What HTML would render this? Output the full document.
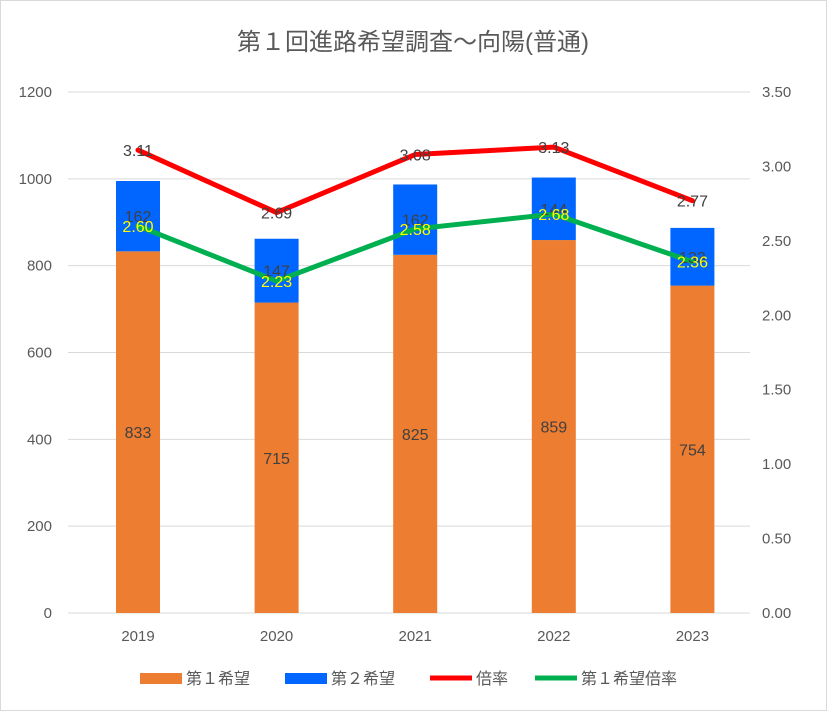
<!DOCTYPE html>
<html><head><meta charset="utf-8"><style>
body{margin:0;background:#fff;}
svg text{font-family:"Liberation Sans","Noto Sans CJK JP",sans-serif;}
</style></head><body>
<svg id="c" width="827" height="711" xmlns="http://www.w3.org/2000/svg">
<rect x="0.5" y="0.5" width="826" height="710" fill="#fff" stroke="#d9d9d9"/>
<text x="413" y="50" text-anchor="middle" font-size="24" fill="#595959">第１回進路希望調査～向陽(普通)</text>
<g id="grid"></g><g id="bars"></g><g id="lines"></g><g id="labels"></g><g id="axes"></g>
<g>
<rect x="140" y="673" width="42" height="11" fill="#ed7d31"/>
<text x="186" y="684" font-size="16" fill="#595959">第１希望</text>
<rect x="285" y="673" width="42" height="11" fill="#0066ff"/>
<text x="331" y="684" font-size="16" fill="#595959">第２希望</text>
<line x1="430" y1="678" x2="472" y2="678" stroke="#ff0000" stroke-width="5"/>
<text x="476" y="684" font-size="16" fill="#595959">倍率</text>
<line x1="535" y1="678" x2="577" y2="678" stroke="#00b050" stroke-width="5"/>
<text x="581" y="684" font-size="16" fill="#595959">第１希望倍率</text>
</g>
</svg>
<script>
const categories=["2019","2020","2021","2022","2023"];
const firstChoice=[833,715,825,859,754];
const secondChoice=[162,147,162,144,133];
const ratio=[3.11,2.69,3.08,3.13,2.77];
const firstRatio=[2.60,2.23,2.58,2.68,2.36];
const leftTicks=[0,200,400,600,800,1000,1200];
const rightTicks=["0.00","0.50","1.00","1.50","2.00","2.50","3.00","3.50"];
const NS="http://www.w3.org/2000/svg";
const L=68,R=750,T=92,B=613;
const yL=v=>B-(v/1200)*(B-T);
const yR=v=>B-(v/3.5)*(B-T);
const bw=138.6;
const xC=i=>138+bw*i;
function mk(t,a,p,txt){const e=document.createElementNS(NS,t);for(const k in a)e.setAttribute(k,a[k]);if(txt!==undefined)e.textContent=txt;document.getElementById(p).appendChild(e);return e;}
leftTicks.forEach(v=>{
 const g=mk('line',{x1:L,x2:R,y1:yL(v),y2:yL(v),stroke:'#d9d9d9','stroke-width':1},'grid');
 
 
 const t=mk('text',{x:52,y:yL(v)+5,'text-anchor':'end','font-size':15,fill:'#595959'},'axes',String(v));
 
 
});
rightTicks.forEach(s=>{
 const t=mk('text',{x:762,y:yR(parseFloat(s))+5,'font-size':15,fill:'#595959'},'axes',s);
 
 
});
categories.forEach((c,i)=>{
 const t=mk('text',{x:xC(i),y:641,'text-anchor':'middle','font-size':15,fill:'#595959'},'axes',c);
 
 
 const w=44,x=xC(i)-w/2;
 const b1=mk('rect',{x:x,y:yL(firstChoice[i]),width:w,height:B-yL(firstChoice[i]),fill:'#ed7d31'},'bars');
 
 
 const top=firstChoice[i]+secondChoice[i];
 const b2=mk('rect',{x:x,y:yL(top),width:w,height:yL(firstChoice[i])-yL(top),fill:'#0066ff'},'bars');
 
 
 const l1=mk('text',{x:xC(i),y:(yL(firstChoice[i])+B)/2+6,'text-anchor':'middle','font-size':16,fill:'#404040'},'labels',String(firstChoice[i]));
 
 
 const l2=mk('text',{x:xC(i),y:(yL(top)+yL(firstChoice[i]))/2+6,'text-anchor':'middle','font-size':16,fill:'#404040'},'labels',String(secondChoice[i]));
 
 
});
function line(arr,color,name,tc){
 const pts=arr.map((v,i)=>xC(i)+','+yR(v)).join(' ');
 const p=mk('polyline',{points:pts,fill:'none',stroke:color,'stroke-width':5,'stroke-linejoin':'round','stroke-linecap':'round'},'lines');
 
 
 arr.forEach((v,i)=>{
  const t=mk('text',{x:xC(i),y:yR(v)+6,'text-anchor':'middle','font-size':16,fill:tc},'labels',v.toFixed(2));
  
  
 });
}
line(ratio,'#ff0000','ratio','#404040');
line(firstRatio,'#00b050','first-ratio','#ffff00');
</script>
</body></html>
